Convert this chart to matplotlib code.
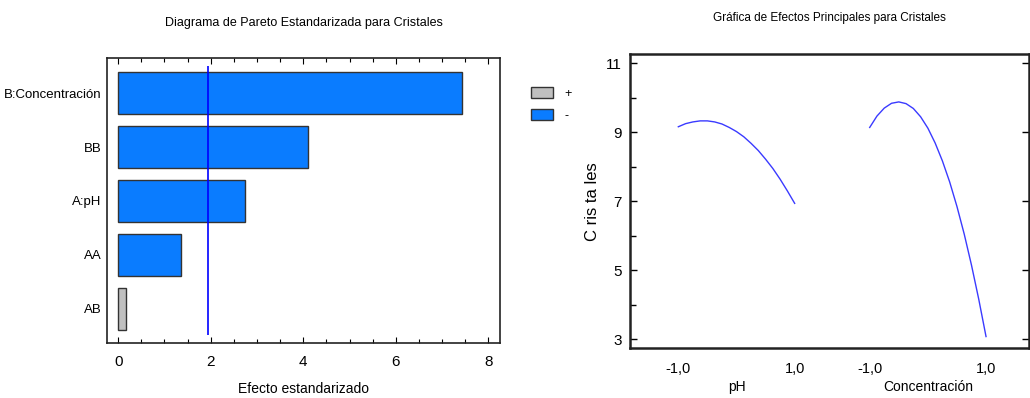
import numpy as np
import matplotlib
matplotlib.use('Agg')
import matplotlib.pyplot as plt
from matplotlib.patches import Patch
from matplotlib.ticker import MultipleLocator, FixedLocator

plt.rcParams['font.family'] = ['Liberation Sans', 'DejaVu Sans']

# --- datos del diagrama de Pareto ---
efectos = ['B:Concentración', 'BB', 'A:pH', 'AA', 'AB']
valores = [7.42, 4.10, 2.74, 1.35, 0.17]
signos = ['-', '-', '-', '-', '+']
limite = 1.95

# --- datos de efectos principales ---
niveles = [-1.0, -0.875, -0.75, -0.625, -0.5, -0.375, -0.25, -0.125, 0.0,
           0.125, 0.25, 0.375, 0.5, 0.625, 0.75, 0.875, 1.0]
cristales_ph = [9.16, 9.25, 9.30, 9.33, 9.33, 9.30, 9.24, 9.14, 9.02,
                8.87, 8.68, 8.47, 8.22, 7.95, 7.64, 7.30, 6.94]
cristales_conc = [9.14, 9.47, 9.70, 9.84, 9.88, 9.83, 9.69, 9.45, 9.12,
                  8.69, 8.17, 7.56, 6.85, 6.05, 5.15, 4.16, 3.08]
desplaz = 3.29   # separacion del segundo factor en el eje x

azul = '#0a7cff'
gris = '#c0c0c0'
colores = {'+': gris, '-': azul}

fig = plt.figure(figsize=(10.30, 3.98), dpi=100)

# ---------- Pareto ----------
ax1 = fig.add_axes([0.1039, 0.1382, 0.3816, 0.7153])
pos = np.arange(len(efectos))
ax1.barh(pos, valores, height=0.78, left=0,
         color=[colores[s] for s in signos], edgecolor='#333333', linewidth=1.0)
ax1.vlines(limite, -0.5, len(efectos) - 0.5, color='#0000ff', linewidth=1.2)
ax1.set_ylim(len(efectos) - 1 + 0.64, -0.65)
ax1.set_xlim(-0.24, 8.25)
ax1.set_yticks(pos)
ax1.set_yticklabels(efectos, fontsize=9.5)
ax1.tick_params(axis='y', length=0, pad=4)
ax1.xaxis.set_major_locator(MultipleLocator(2))
ax1.xaxis.set_minor_locator(MultipleLocator(0.5))
ax1.tick_params(axis='x', which='both', direction='in', top=True, labelsize=11,
                length=4, width=0.8, pad=9)
ax1.tick_params(axis='x', which='minor', length=3)
for sp in ax1.spines.values():
    sp.set_linewidth(1.2)
    sp.set_color('#222222')
ax1.set_xlabel('Efecto estandarizado', fontsize=10, labelpad=9)
ax1.set_title('Diagrama de Pareto Estandarizada para Cristales', fontsize=9, pad=23)

handles = [Patch(facecolor=gris, edgecolor='#333333', label='+'),
           Patch(facecolor=azul, edgecolor='#333333', label='-')]
ax1.legend(handles=handles, loc='upper left', bbox_to_anchor=(1.078, 0.9),
           frameon=False, fontsize=9, handlelength=1.76, handleheight=0.96,
           labelspacing=0.75, handletextpad=0.95, borderpad=0, borderaxespad=0)

# ---------- Efectos principales ----------
ax2 = fig.add_axes([0.6117, 0.1249, 0.3874, 0.7387])
ax2.plot(niveles, cristales_ph, color='#3a3aff', linewidth=1.0)
ax2.plot([n + desplaz for n in niveles], cristales_conc, color='#3a3aff', linewidth=1.0)
ax2.set_xlim(-1.83, 5.03)
ax2.set_ylim(2.74, 11.26)
ax2.yaxis.set_major_locator(FixedLocator([3, 5, 7, 9, 11]))
ax2.yaxis.set_minor_locator(FixedLocator([4, 6, 8, 10]))
ax2.tick_params(axis='y', which='both', direction='in', right=True, labelsize=11,
                length=5, width=1.0, pad=6)
ax2.tick_params(axis='y', which='minor', right=False, length=4)
ax2.set_xticks([-1, 1, -1 + desplaz, 1 + desplaz])
ax2.set_xticklabels(['-1,0', '1,0', '-1,0', '1,0'], fontsize=10.5)
ax2.tick_params(axis='x', length=0, pad=10)
for sp in ax2.spines.values():
    sp.set_linewidth(1.8)
    sp.set_color('#222222')
ax2.set_ylabel('C ris ta les', fontsize=12, labelpad=4)
ax2.text(0, -0.132, 'pH', transform=ax2.get_xaxis_transform(),
         ha='center', va='center', fontsize=10)
ax2.text(desplaz, -0.132, 'Concentración', transform=ax2.get_xaxis_transform(),
         ha='center', va='center', fontsize=10)
ax2.set_title('Gráfica de Efectos Principales para Cristales', fontsize=8.5, pad=24)

fig.savefig('out.png', dpi=100)
